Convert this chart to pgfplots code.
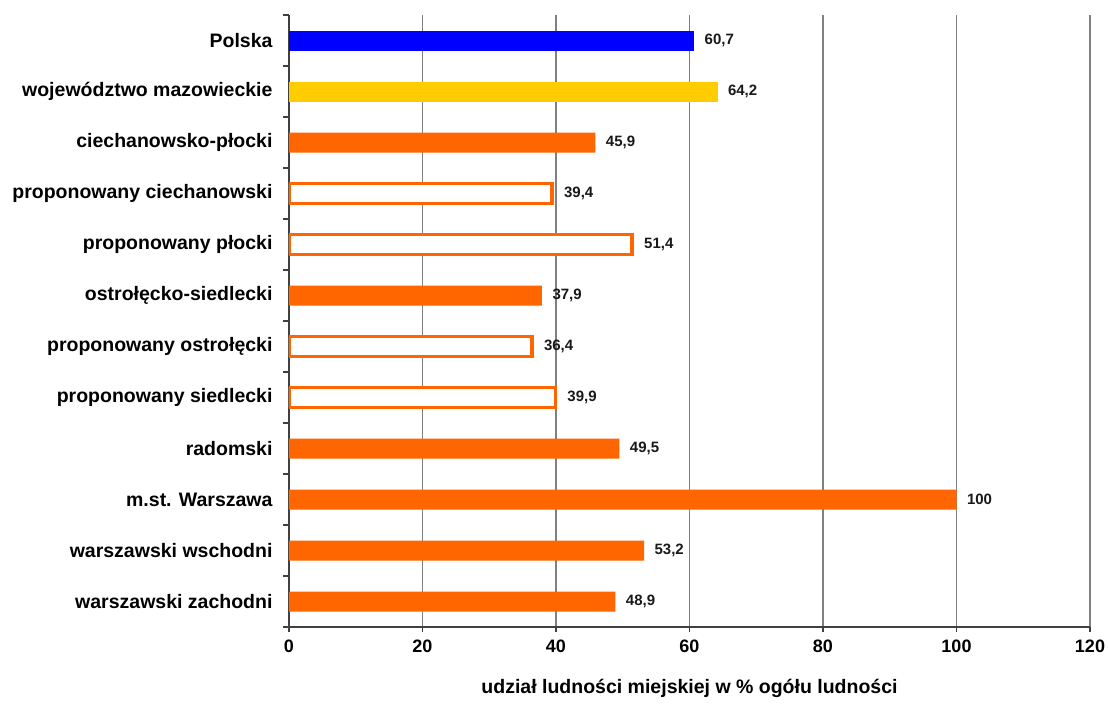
\documentclass[border=0pt]{standalone}
\usepackage{fontspec}
\setmainfont{Liberation Sans}
\usepackage{pgfplots}
\pgfplotsset{compat=1.18}
\definecolor{cblue}{HTML}{0000FF}
\definecolor{cyel}{HTML}{FFCC00}
\definecolor{corg}{HTML}{FF6600}
\begin{document}
\begin{tikzpicture}
\begin{axis}[
 name=ax, scale only axis, width=801pt, height=612pt,
 xbar, bar width=20pt, bar shift=0pt,
 xmin=0, xmax=120, ymin=-0.5, ymax=11.5, y dir=reverse,
 axis x line*=bottom, axis y line*=left,
 axis line style={black!75, line width=1.2pt},
 xtick={0,20,...,120},
 xmajorgrids, grid style={black!50, line width=1.3pt},
 tick align=outside,
 major tick length=5pt,
 minor tick length=6pt,
 tick style={black!75, line width=1.2pt},
 ytick={0,...,11},
 major y tick style={draw=none},
 minor ytick={-0.5,0.5,...,11.5},
 yticklabels={Polska, województwo mazowieckie, ciechanowsko-płocki, proponowany ciechanowski, proponowany płocki, ostrołęcko-siedlecki, proponowany ostrołęcki, proponowany siedlecki, radomski, m.st. Warszawa, warszawski wschodni, warszawski zachodni},
 yticklabel style={font=\fontsize{19.5}{22}\selectfont\bfseries, xshift=-8pt},
 xticklabel style={font=\fontsize{18}{21}\selectfont\bfseries, yshift=-4pt},
 /pgf/number format/.cd, use comma, fixed, precision=1, assume math mode=true,
 /pgfplots/.cd,
 nodes near coords,
 nodes near coords style={font=\fontsize{15}{17}\selectfont\bfseries, anchor=west, xshift=7pt, text=black!90},
 xlabel={udział ludności miejskiej w \% ogółu ludności},
 xlabel style={font=\fontsize{19.5}{22}\selectfont\bfseries, yshift=-20pt},
]
\addplot[fill=cblue, draw=none] coordinates {(60.7,0)};
\addplot[fill=cyel, draw=none] coordinates {(64.2,1)};
\addplot[fill=corg, draw=none] coordinates {(45.9,2) (37.9,5) (49.5,8) (100,9) (53.2,10) (48.9,11)};
\addplot[fill=white, draw=corg, line width=3.5pt] coordinates {(39.4,3) (51.4,4) (36.4,6) (39.9,7)};
\end{axis}
\pgfresetboundingbox
\path ([xshift=-289pt,yshift=-77pt]ax.south west) rectangle ([xshift=18pt,yshift=15pt]ax.north east);
\end{tikzpicture}
\end{document}
